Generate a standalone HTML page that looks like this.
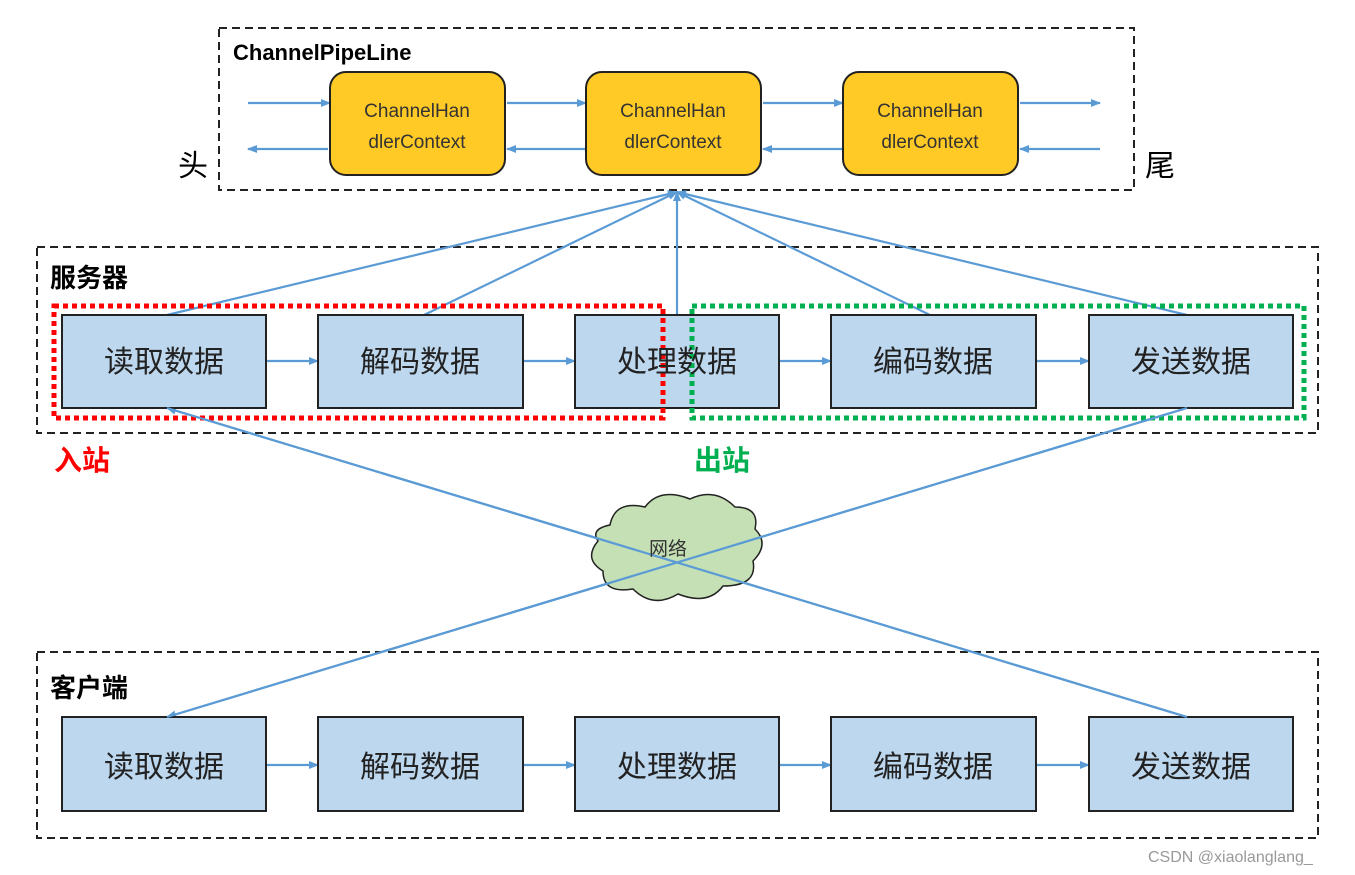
<html><body style="margin:0;background:#fff">
<svg width="1355" height="875" xmlns="http://www.w3.org/2000/svg" font-family="Liberation Sans, Noto Sans CJK SC, sans-serif">
<defs><marker id="a" markerWidth="10" markerHeight="10" refX="9" refY="5" orient="auto" markerUnits="userSpaceOnUse"><path d="M0,1 L10,5 L0,9 z" fill="#5b9bd5"/></marker></defs>
<g fill="none" stroke="#222" stroke-width="2" stroke-dasharray="8,5">
<rect x="219" y="28" width="915" height="162"/>
<rect x="37" y="247" width="1281" height="186"/>
<rect x="37" y="652" width="1281" height="186"/>
</g>
<g stroke="#5b9bd5" stroke-width="2.2" fill="none" marker-end="url(#a)">
<line x1="248" y1="103" x2="330" y2="103"/><line x1="507" y1="103" x2="586" y2="103"/><line x1="763" y1="103" x2="843" y2="103"/><line x1="1020" y1="103" x2="1100" y2="103"/>
<line x1="328" y1="149" x2="248" y2="149"/><line x1="586" y1="149" x2="507" y2="149"/><line x1="843" y1="149" x2="763" y2="149"/><line x1="1100" y1="149" x2="1020" y2="149"/>
<line x1="167" y1="315" x2="677" y2="192"/><line x1="424" y1="315" x2="677" y2="192"/><line x1="677" y1="315" x2="677" y2="192"/><line x1="930" y1="315" x2="677" y2="192"/><line x1="1187" y1="315" x2="677" y2="192"/>
<line x1="1187" y1="408" x2="167" y2="717"/><line x1="1187" y1="717" x2="167" y2="408"/>
<line x1="266" y1="361" x2="318" y2="361"/><line x1="523" y1="361" x2="575" y2="361"/><line x1="779" y1="361" x2="831" y2="361"/><line x1="1036" y1="361" x2="1089" y2="361"/>
<line x1="266" y1="765" x2="318" y2="765"/><line x1="523" y1="765" x2="575" y2="765"/><line x1="779" y1="765" x2="831" y2="765"/><line x1="1036" y1="765" x2="1089" y2="765"/>
</g>
<g fill="#ffc926" stroke="#222" stroke-width="2">
<rect x="330" y="72" width="175" height="103" rx="16"/><rect x="586" y="72" width="175" height="103" rx="16"/><rect x="843" y="72" width="175" height="103" rx="16"/>
</g>
<g font-size="19" fill="#333" text-anchor="middle">
<text x="417" y="117">ChannelHan</text><text x="417" y="148">dlerContext</text>
<text x="673" y="117">ChannelHan</text><text x="673" y="148">dlerContext</text>
<text x="930" y="117">ChannelHan</text><text x="930" y="148">dlerContext</text>
</g>
<text x="233" y="60" font-size="22" font-weight="bold">ChannelPipeLine</text>
<text x="178" y="176" font-size="30">头</text><text x="1145" y="176" font-size="30">尾</text>
<g fill="#bdd7ee" stroke="#222" stroke-width="2">
<rect x="62" y="315" width="204" height="93"/><rect x="318" y="315" width="205" height="93"/><rect x="575" y="315" width="204" height="93"/><rect x="831" y="315" width="205" height="93"/><rect x="1089" y="315" width="204" height="93"/>
<rect x="62" y="717" width="204" height="94"/><rect x="318" y="717" width="205" height="94"/><rect x="575" y="717" width="204" height="94"/><rect x="831" y="717" width="205" height="94"/><rect x="1089" y="717" width="204" height="94"/>
</g>
<rect x="54" y="306" width="609" height="112" fill="none" stroke="#f00" stroke-width="5" stroke-dasharray="5,4"/>
<rect x="692" y="306" width="612" height="112" fill="none" stroke="#00b050" stroke-width="5" stroke-dasharray="5,4"/>
<g font-size="30" fill="#222" text-anchor="middle">
<text x="164" y="372">读取数据</text><text x="420" y="372">解码数据</text><text x="677" y="372">处理数据</text><text x="933" y="372">编码数据</text><text x="1191" y="372">发送数据</text>
<text x="164" y="777">读取数据</text><text x="420" y="777">解码数据</text><text x="677" y="777">处理数据</text><text x="933" y="777">编码数据</text><text x="1191" y="777">发送数据</text>
</g>
<text x="50" y="287" font-size="26" font-weight="bold">服务器</text>
<text x="50" y="697" font-size="26" font-weight="bold">客户端</text>
<text x="54" y="470" font-size="28" font-weight="bold" fill="#f00">入站</text>
<text x="694" y="470" font-size="28" font-weight="bold" fill="#00b050">出站</text>
<path d="M610,525 q5,-25 35,-18 q15,-20 45,-8 q25,-12 45,8 q25,0 20,22 q15,15 -2,32 q5,25 -30,25 q-15,20 -45,8 q-25,15 -45,-5 q-30,5 -30,-18 q-20,-12 -5,-30 q-8,-12 12,-16 z" fill="#c5e0b4" stroke="#222" stroke-width="1.5"/>
<line x1="1187" y1="408" x2="167" y2="717" stroke="#5b9bd5" stroke-width="2.2"/>
<line x1="1187" y1="717" x2="167" y2="408" stroke="#5b9bd5" stroke-width="2.2"/>
<text x="668" y="555" font-size="19" fill="#333" text-anchor="middle">网络</text>
<text x="1148" y="862" font-size="16" fill="#999">CSDN @xiaolanglang_</text>
</svg>
</body></html>
